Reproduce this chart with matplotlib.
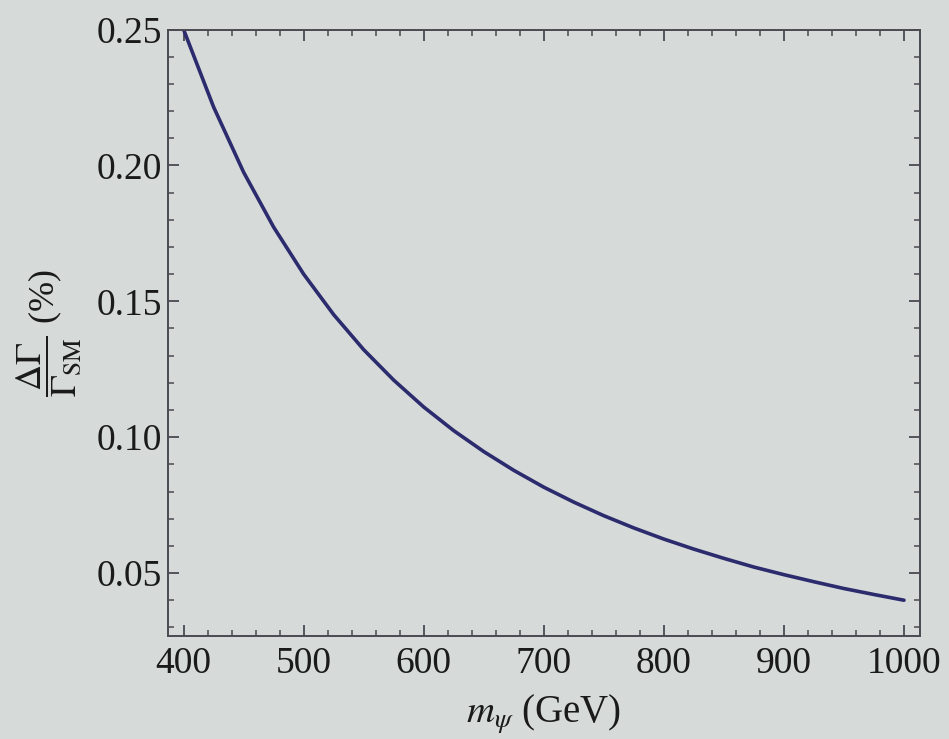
import matplotlib
matplotlib.use("Agg")
import matplotlib.pyplot as plt
from matplotlib.ticker import MultipleLocator

# Data
mass_gev = [400, 425, 450, 475, 500, 525, 550, 575, 600, 625, 650, 675, 700,
            725, 750, 775, 800, 825, 850, 875, 900, 925, 950, 975, 1000]
delta_gamma_pct = [0.250, 0.2215, 0.1975, 0.1773, 0.160, 0.1451, 0.1322, 0.1210,
                   0.1111, 0.1024, 0.0947, 0.0878, 0.0816, 0.0761, 0.0711, 0.0666,
                   0.0625, 0.0588, 0.0554, 0.0522, 0.0494, 0.0468, 0.0443, 0.0421,
                   0.0400]
x_ticks = [400, 500, 600, 700, 800, 900, 1000]
y_ticks = [0.05, 0.10, 0.15, 0.20, 0.25]
y_tick_labels = ["0.05", "0.10", "0.15", "0.20", "0.25"]

plt.rcParams['font.family'] = ['Liberation Serif', 'DejaVu Serif']
plt.rcParams['mathtext.fontset'] = 'stix'

bg = '#d6dad9'
fig = plt.figure(figsize=(9.49, 7.39), dpi=100, facecolor=bg)
ax = fig.add_axes([0.177, 0.14, 0.792, 0.82], facecolor=bg)

ax.plot(mass_gev, delta_gamma_pct, color='#2b2b6e', lw=2.6, solid_capstyle='round')

ax.set_xlim(387, 1013)
ax.set_ylim(0.027, 0.25)
ax.set_xticks(x_ticks)
ax.set_yticks(y_ticks)
ax.set_yticklabels(y_tick_labels)
ax.xaxis.set_minor_locator(MultipleLocator(20))
ax.yaxis.set_minor_locator(MultipleLocator(0.01))

frame_col = '#4a4a52'
for s in ax.spines.values():
    s.set_color(frame_col)
    s.set_linewidth(1.4)
ax.tick_params(which='both', direction='in', top=True, right=True, colors=frame_col,
               labelcolor='#1a1a1a', labelsize=27)
ax.tick_params(which='major', length=8, width=1.3)
ax.tick_params(which='minor', length=4.5, width=1.1)
ax.tick_params(axis='x', pad=8)
ax.tick_params(axis='y', pad=4)

ax.set_xlabel(r'$m_\psi$ (GeV)', fontsize=28, color='#1a1a1a', labelpad=8)
ax.set_ylabel(r'$\dfrac{\Delta\Gamma}{\Gamma_{\rm SM}}$ (%)', fontsize=26,
              color='#1a1a1a', labelpad=10)

fig.savefig('out.png', dpi=100, facecolor=bg)
